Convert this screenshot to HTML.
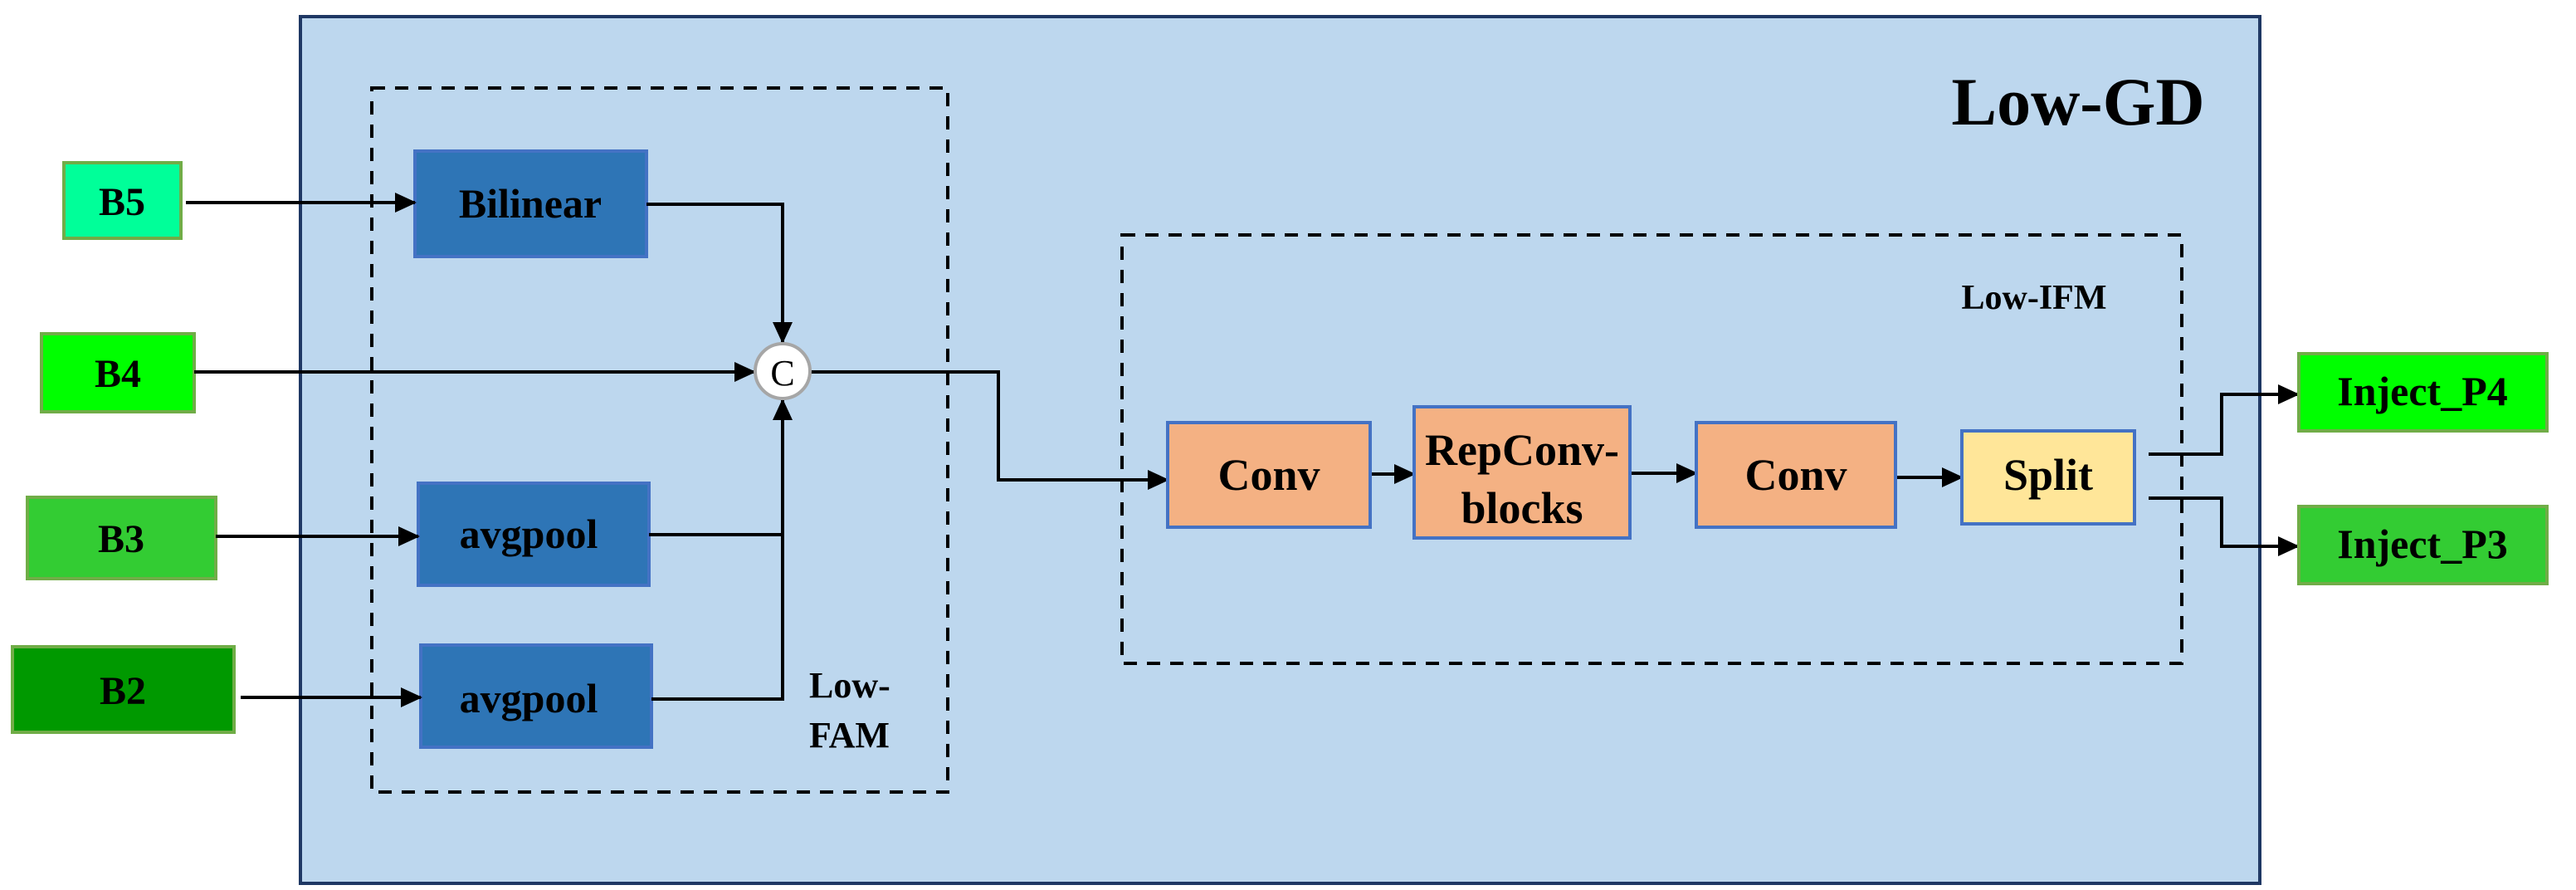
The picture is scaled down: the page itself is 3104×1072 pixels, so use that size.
<!DOCTYPE html>
<html><head><meta charset="utf-8"><style>
html,body{margin:0;padding:0;background:#fff;}
svg{display:block;}
text{font-family:"Liberation Serif",serif;font-weight:bold;fill:#000;}
</style></head><body>
<svg width="3104" height="1072" viewBox="0 0 3104 1072" xmlns="http://www.w3.org/2000/svg">
<defs>
<marker id="a" markerWidth="26" markerHeight="24" refX="24" refY="12" orient="auto" markerUnits="userSpaceOnUse">
<path d="M0,0 L26,12 L0,24 Z" fill="#000"/>
</marker>
</defs>
<rect x="362" y="20" width="2361" height="1044" fill="#bdd7ee" stroke="#1f3864" stroke-width="4"/>
<text x="2504" y="150" font-size="82" text-anchor="middle">Low-GD</text>

<rect x="448" y="106" width="694" height="848" fill="none" stroke="#000" stroke-width="4" stroke-dasharray="16,12"/>
<rect x="1352" y="283" width="1277" height="516" fill="none" stroke="#000" stroke-width="4" stroke-dasharray="16,12"/>
<text x="2451" y="372" font-size="42" text-anchor="middle">Low-IFM</text>
<text x="975" y="840" font-size="44">Low-</text>
<text x="975" y="900" font-size="44">FAM</text>

<!-- inputs -->
<rect x="77" y="196" width="141" height="91" fill="#00ff99" stroke="#70ad47" stroke-width="4"/>
<text x="147" y="259" font-size="48" text-anchor="middle">B5</text>
<rect x="50" y="402" width="184" height="94" fill="#00ff00" stroke="#70ad47" stroke-width="4"/>
<text x="142" y="466" font-size="48" text-anchor="middle">B4</text>
<rect x="33" y="599" width="227" height="98" fill="#33cc33" stroke="#70ad47" stroke-width="4"/>
<text x="146" y="665" font-size="48" text-anchor="middle">B3</text>
<rect x="15" y="779" width="267" height="103" fill="#009900" stroke="#70ad47" stroke-width="4"/>
<text x="148" y="848" font-size="48" text-anchor="middle">B2</text>

<!-- FAM boxes -->
<rect x="500" y="182" width="279" height="127" fill="#2e75b6" stroke="#4472c4" stroke-width="4"/>
<text x="639" y="262" font-size="50" text-anchor="middle">Bilinear</text>
<rect x="504" y="582" width="278" height="123" fill="#2e75b6" stroke="#4472c4" stroke-width="4"/>
<text x="637" y="660" font-size="50" text-anchor="middle">avgpool</text>
<rect x="507" y="777" width="278" height="123" fill="#2e75b6" stroke="#4472c4" stroke-width="4"/>
<text x="637" y="858" font-size="50" text-anchor="middle">avgpool</text>

<g stroke="#000" stroke-width="4" fill="none">
<line x1="224" y1="244" x2="500" y2="244" marker-end="url(#a)"/>
<line x1="234" y1="448" x2="909" y2="448" marker-end="url(#a)"/>
<line x1="260" y1="646" x2="504" y2="646" marker-end="url(#a)"/>
<line x1="290" y1="840" x2="507" y2="840" marker-end="url(#a)"/>
<polyline points="779,246 943,246 943,412" marker-end="url(#a)"/>
<polyline points="785,842 943,842 943,482" marker-end="url(#a)"/>
<line x1="782" y1="644" x2="943" y2="644"/>
<polyline points="977,448 1203,448 1203,578 1407,578" marker-end="url(#a)"/>
<line x1="1651" y1="571" x2="1704" y2="571" marker-end="url(#a)"/>
<line x1="1964" y1="570" x2="2044" y2="570" marker-end="url(#a)"/>
<line x1="2284" y1="575" x2="2364" y2="575" marker-end="url(#a)"/>
<polyline points="2589,547 2677,547 2677,475 2769,475" marker-end="url(#a)"/>
<polyline points="2589,600 2677,600 2677,658 2769,658" marker-end="url(#a)"/>
</g>
<circle cx="943" cy="447" r="33" fill="#fff" stroke="#a6a6a6" stroke-width="4"/>
<text x="943" y="464" font-size="44" font-weight="normal" style="font-weight:normal" text-anchor="middle">C</text>

<!-- IFM boxes -->
<rect x="1407" y="509" width="244" height="126" fill="#f4b183" stroke="#4472c4" stroke-width="4"/>
<text x="1529" y="590" font-size="54" text-anchor="middle">Conv</text>
<rect x="1704" y="490" width="260" height="158" fill="#f4b183" stroke="#4472c4" stroke-width="4"/>
<text x="1834" y="560" font-size="54" text-anchor="middle">RepConv-</text>
<text x="1834" y="630" font-size="54" text-anchor="middle">blocks</text>
<rect x="2044" y="509" width="240" height="126" fill="#f4b183" stroke="#4472c4" stroke-width="4"/>
<text x="2164" y="590" font-size="54" text-anchor="middle">Conv</text>
<rect x="2364" y="519" width="208" height="112" fill="#ffe699" stroke="#4472c4" stroke-width="4"/>
<text x="2468" y="590" font-size="54" text-anchor="middle">Split</text>

<!-- outputs -->
<rect x="2770" y="426" width="299" height="93" fill="#00ff00" stroke="#70ad47" stroke-width="4"/>
<text x="2919" y="488" font-size="50" text-anchor="middle">Inject_P4</text>
<rect x="2770" y="610" width="299" height="93" fill="#33cc33" stroke="#70ad47" stroke-width="4"/>
<text x="2919" y="672" font-size="50" text-anchor="middle">Inject_P3</text>
</svg>
</body></html>
